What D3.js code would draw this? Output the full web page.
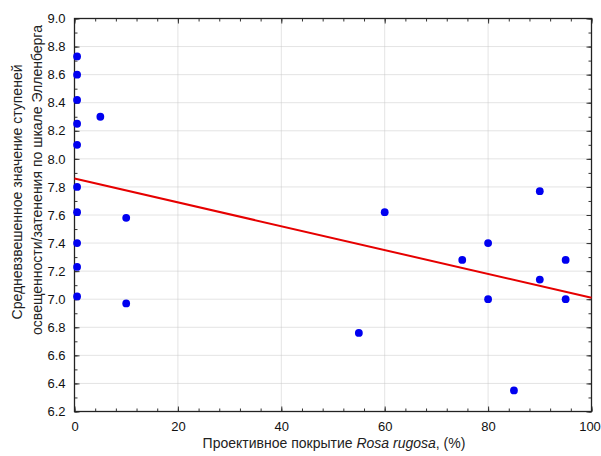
<!DOCTYPE html>
<html><head><meta charset="utf-8">
<script src="https://cdn.jsdelivr.net/npm/d3@7"></script>
<style>body{margin:0;background:#fff}svg{display:block;font-family:"Liberation Sans",Arial,sans-serif}</style>
</head><body>
<script>
const xValues = [0.5,0.5,0.5,0.5,0.5,0.5,0.5,0.5,0.5,0.5,5,10,10,55,60,75,80,80,85,90,90,95,95];
const yValues = [8.73,8.60,8.42,8.25,8.10,7.80,7.62,7.40,7.23,7.02,8.30,7.58,6.97,6.76,7.62,7.28,7.40,7.00,6.35,7.77,7.14,7.28,7.00];
const trendX = [0,100];
const trendY = [7.86,7.01];
const xTicks = [0,20,40,60,80,100];
const yTicks = [6.2,6.4,6.6,6.8,7.0,7.2,7.4,7.6,7.8,8.0,8.2,8.4,8.6,8.8,9.0];
const xTitle = ["Проективное покрытие ", "Rosa rugosa", ", (%)"];
const yTitle = ["Средневзвешенное значение ступеней","освещенности/затенения по шкале Элленберга"];

const W=601,H=456, L=74.5,R=591.5,T=18.5,B=411.5;
const svg=d3.select("body").append("svg").attr("width",W).attr("height",H);
const x=d3.scaleLinear().domain([0,100]).range([L,R]);
const y=d3.scaleLinear().domain([6.2,9.0]).range([B,T]);

// grid
const g=svg.append("g");
g.selectAll(".vg").data(xTicks.slice(1,-1)).join("line")
 .attr("x1",d=>x(d)).attr("x2",d=>x(d)).attr("y1",T).attr("y2",B)
 .attr("stroke","#c8c8c8").attr("stroke-dasharray","1,1");
g.selectAll(".hg").data(yTicks.slice(1,-1)).join("line")
 .attr("y1",d=>y(d)).attr("y2",d=>y(d)).attr("x1",L).attr("x2",R)
 .attr("stroke","#c8c8c8").attr("stroke-dasharray","1,1");

// axes
const xMinor=d3.range(0,101,4);
const yMinor=d3.range(62,91,1).map(v=>v/10);
function axisG(axis,tx,ty){return svg.append("g").attr("transform",`translate(${tx},${ty})`).call(axis);}
const ax=[
 axisG(d3.axisBottom(x).tickValues(xMinor).tickSize(-3).tickFormat(""),0,B),
 axisG(d3.axisTop(x).tickValues(xMinor).tickSize(-3).tickFormat(""),0,T),
 axisG(d3.axisLeft(y).tickValues(yMinor).tickSize(-3).tickFormat(""),L,0),
 axisG(d3.axisRight(y).tickValues(yMinor).tickSize(-3).tickFormat(""),R,0),
 axisG(d3.axisBottom(x).tickValues(xTicks).tickSize(-5).tickPadding(10).tickFormat(d3.format("d")),0,B),
 axisG(d3.axisLeft(y).tickValues(yTicks).tickSize(-5).tickPadding(9).tickFormat(d3.format(".1f")),L,0),
 axisG(d3.axisTop(x).tickValues(xTicks).tickSize(-5).tickFormat(""),0,T),
 axisG(d3.axisRight(y).tickValues(yTicks).tickSize(-5).tickFormat(""),R,0)
];
ax.forEach(a=>{a.select(".domain").remove();a.selectAll("line").attr("stroke","#333");
 a.selectAll("text").attr("font-size",13).attr("fill","#111").attr("font-family","Liberation Sans, Arial, sans-serif");});
ax[4].selectAll("text").filter(d=>d===100).attr("dx",-2);
svg.append("rect").attr("x",L).attr("y",T).attr("width",R-L).attr("height",B-T)
 .attr("fill","none").attr("stroke","#222").attr("stroke-width",1.3);

// trend
svg.append("path").datum(trendX.map((v,i)=>[v,trendY[i]]))
 .attr("d",d3.line().x(d=>x(d[0])).y(d=>y(d[1])))
 .attr("stroke","#e60000").attr("stroke-width",2).attr("fill","none");

// points
svg.selectAll(".pt").data(xValues.map((v,i)=>[v,yValues[i]])).join("circle")
 .attr("cx",d=>x(d[0])).attr("cy",d=>y(d[1])).attr("r",3.9).attr("fill","#0000f0");

// titles
const xt=svg.append("text").attr("x",334).attr("y",448).attr("text-anchor","middle")
 .attr("font-size",14).attr("fill","#222");
xTitle.forEach((t,i)=>xt.append("tspan").text(t).attr("font-style",i===1?"italic":"normal"));
svg.append("text").attr("transform","translate(22,192) rotate(-90)").attr("text-anchor","middle")
 .attr("font-size",14).attr("fill","#222").text(yTitle[0]);
svg.append("text").attr("transform","translate(42,180) rotate(-90)").attr("text-anchor","middle")
 .attr("font-size",14).attr("fill","#222").text(yTitle[1]);
</script>
</body></html>
